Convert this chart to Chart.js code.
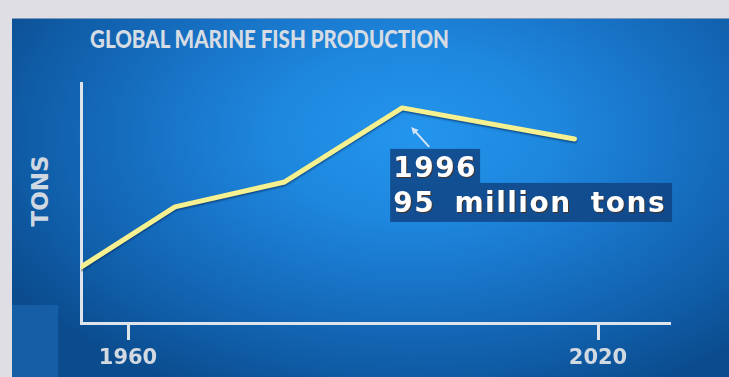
<!DOCTYPE html>
<html><head><meta charset="utf-8">
<script src="https://cdn.jsdelivr.net/npm/chart.js@4"></script>
<style>
html,body{margin:0;padding:0;}
body{width:729px;height:377px;background:#dedee4;position:relative;overflow:hidden;}
#panel{position:absolute;left:12px;top:18px;width:717px;height:359px;
 background: radial-gradient(ellipse 66% 80% at 56% 32%, #2495ed 0%, #1e87de 30%, #1873c6 54%, #105ea9 80%, #0b4c8e 100%);
 border-top:1px solid #7e98b8;}
#corner{position:absolute;left:12px;top:305px;width:46px;height:72px;background:rgba(45,135,220,0.30);}
#title{position:absolute;left:90px;top:26px;font-family:Lato;font-weight:900;font-size:25px;color:#d6dce4;line-height:25px;white-space:nowrap;transform-origin:0 50%;}
#ylab{position:absolute;left:40px;top:191px;transform:translate(-50%,-50%) rotate(-90deg);font-family:"DejaVu Sans";font-weight:bold;font-size:23px;line-height:23px;color:#d0d8e2;white-space:nowrap;}
canvas{position:absolute;left:0;top:0;}
</style></head>
<body>
<div id="panel"></div>
<div id="corner"></div>
<div id="title">GLOBAL MARINE FISH PRODUCTION</div>
<div id="ylab">TONS</div>
<canvas id="c" width="729" height="377"></canvas>
<script>
const years = [1954, 1966, 1980, 1995, 2017];
const fishTons = [24.7, 51.3, 62.3, 95, 81.3];
const tickYears = [1960, 2020];
const peakIndex = 3;
const peakLabel = ['1996', '95 million tons'];

// fit title to the reference width
(function(){ const t = document.getElementById('title'); const w = t.getBoundingClientRect().width; t.style.transform = 'scaleX(' + (359 / w) + ')'; })();

const lineShadow = {
  id: 'lineShadow',
  beforeDatasetsDraw(chart) { const c = chart.ctx; c.save(); c.shadowColor = 'rgba(0,25,70,0.55)'; c.shadowBlur = 2; c.shadowOffsetY = 1.5; },
  afterDatasetsDraw(chart) { chart.ctx.restore(); }
};

const callout = {
  id: 'callout',
  afterDraw(chart) {
    const pt = chart.getDatasetMeta(0).data[peakIndex];
    const ctx = chart.ctx; const px = pt.x, py = pt.y;
    ctx.save();
    ctx.strokeStyle = '#d3e6f6'; ctx.fillStyle = '#d3e6f6'; ctx.lineWidth = 2;
    const tx = px + 27, ty = py + 39, hx = px + 9, hy = py + 19;
    ctx.beginPath(); ctx.moveTo(tx, ty); ctx.lineTo(hx + 3, hy + 3.5); ctx.stroke();
    const ang = Math.atan2(hy - ty, hx - tx);
    ctx.beginPath(); ctx.moveTo(hx, hy);
    ctx.lineTo(hx - 8 * Math.cos(ang - 0.45), hy - 8 * Math.sin(ang - 0.45));
    ctx.lineTo(hx - 8 * Math.cos(ang + 0.45), hy - 8 * Math.sin(ang + 0.45));
    ctx.closePath(); ctx.fill();
    ctx.font = 'bold 28px "DejaVu Sans"';
    ctx.letterSpacing = '1.5px';
    ctx.wordSpacing = '8px';
    const bx = px - 12, by1 = py + 41;
    const w1 = ctx.measureText(peakLabel[0]).width, w2 = ctx.measureText(peakLabel[1]).width;
    ctx.fillStyle = 'rgba(16,66,128,0.82)';
    ctx.fillRect(bx, by1, w1 + 6, 34);
    ctx.fillRect(bx, by1 + 34, w2 + 9, 39);
    ctx.fillStyle = '#ffffff'; ctx.textBaseline = 'alphabetic';
    ctx.shadowColor = 'rgba(90,40,0,0.7)'; ctx.shadowOffsetX = 1; ctx.shadowOffsetY = 1;
    ctx.fillText(peakLabel[0], bx + 3, by1 + 28);
    ctx.fillText(peakLabel[1], bx + 3, by1 + 63);
    ctx.restore();
  }
};

new Chart(document.getElementById('c'), {
  type: 'line',
  data: {
    datasets: [{
      data: years.map((y, i) => ({ x: y, y: fishTons[i] })),
      borderColor: '#f5f190',
      borderWidth: 5,
      pointRadius: 0,
      tension: 0,
      borderJoinStyle: 'round',
      borderCapStyle: 'round',
      fill: false
    }]
  },
  options: {
    responsive: false,
    animation: false,
    layout: { padding: { left: 81, right: 59, top: 83, bottom: 0 } },
    plugins: { legend: { display: false }, tooltip: { enabled: false }, title: { display: false } },
    scales: {
      x: {
        type: 'linear', min: 1954, max: 2029.19,
        afterBuildTicks(s) { s.ticks = tickYears.map(v => ({ value: v })); },
        afterFit(s) { s.height = 54; },
        ticks: { color: '#d2d9e1', font: { family: 'DejaVu Sans', weight: 'bold', size: 21 }, padding: 6, maxRotation: 0, autoSkip: false, callback: v => String(v) },
        grid: { display: true, drawOnChartArea: false, drawTicks: true, tickLength: 17, tickWidth: 3, color: '#dde4ec' },
        border: { display: true, width: 3, color: '#dde4ec' }
      },
      y: {
        min: 0, max: 106,
        afterFit(s) { s.width = 0; },
        ticks: { display: false },
        grid: { display: false },
        border: { display: true, width: 3, color: '#dde4ec' }
      }
    }
  },
  plugins: [lineShadow, callout]
});
</script>
</body></html>
